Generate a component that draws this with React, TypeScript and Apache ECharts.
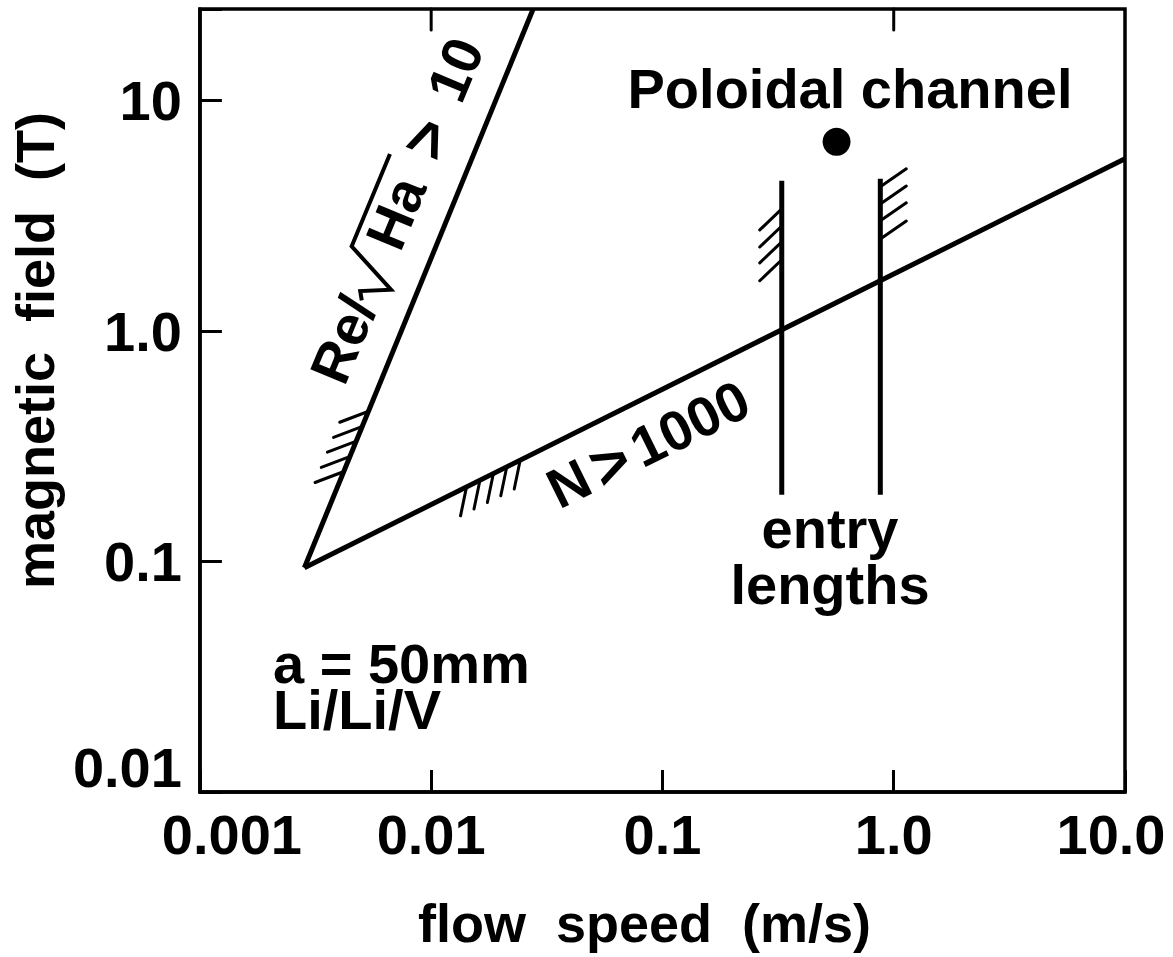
import React, { useEffect, useRef } from "react";
import * as echarts from "echarts";

const FONT = "'Liberation Sans', Arial, Helvetica, sans-serif";

// ---- axes ----
const xRange = [0.001, 10];
const yRange = [0.01, 25];
const xTickValues = [0.001, 0.01, 0.1, 1, 10];
const xTickLabels = ["0.001", "0.01", "0.1", "1.0", "10.0"];
const yTickValues = [0.01, 0.1, 1, 10];
const yTickLabels = ["0.01", "0.1", "1.0", "10"];
const topTickValues = [0.01, 1];
const xName = "flow  speed  (m/s)";
const yName = "magnetic  field  (T)";

// ---- boundary lines (flow speed m/s, field T) ----
const reLine = [[0.00283, 0.094], [0.0276, 25]];
const nLine = [[0.00283, 0.094], [10, 5.6]];
const entryLineA = [[0.328, 0.195], [0.328, 4.49]];
const entryLineB = [[0.875, 0.195], [0.875, 4.58]];
const poloidalPoint = [[0.566, 6.63]];

// ---- hatch anchors ----
const reHatch = [[0.0042, 0.246], [0.00447, 0.286], [0.00475, 0.333], [0.00505, 0.386], [0.00537, 0.449]];
const nHatch = [[0.01422, 0.211], [0.01626, 0.226], [0.01858, 0.241], [0.02123, 0.258], [0.02427, 0.276]];
const entryHatchA = [[0.328, 3.39], [0.328, 2.86], [0.328, 2.44], [0.328, 2.04]];
const entryHatchB = [[0.875, 4.23], [0.875, 3.56], [0.875, 3.01], [0.875, 2.51]];

const findIdx = (values: number[], v: number) => {
  const lv = Math.log10(v);
  for (let i = 0; i < values.length; i++) {
    if (Math.abs(Math.log10(values[i]) - lv) < 1e-6) return i;
  }
  return -1;
};

const baseText = { fontFamily: FONT, fontWeight: "bold" as const, fontSize: 56, color: "#000" };

const strokeSeries = (data: number[][], dx: number, dy: number, lw: number) => ({
  type: "custom",
  coordinateSystem: "cartesian2d",
  data,
  silent: true,
  clip: false,
  renderItem: (_p: any, api: any) => {
    const p = api.coord([api.value(0), api.value(1)]);
    return {
      type: "line",
      shape: { x1: p[0], y1: p[1], x2: p[0] + dx, y2: p[1] + dy },
      style: { stroke: "#000", lineWidth: lw, lineCap: "round" },
    };
  },
});

const lineSeries = (data: number[][]) => ({
  type: "line",
  data,
  symbol: "none",
  silent: true,
  lineStyle: { color: "#000", width: 5 },
});

const txt = (text: string, x: number, y: number, align = "center", size = 56, lineHeight?: number) => ({
  type: "text",
  x,
  y,
  style: {
    text,
    font: `bold ${size}px ${FONT}`,
    fill: "#000",
    textAlign: align,
    textVerticalAlign: "middle",
    ...(lineHeight ? { lineHeight } : {}),
  },
});

export default function App() {
  const ref = useRef<HTMLDivElement>(null);
  useEffect(() => {
    if (!ref.current) return;
    const chart = echarts.init(ref.current, null, { renderer: "svg" });
    chart.setOption({
      animation: false,
      backgroundColor: "#fff",
      grid: {
        left: 196,
        right: 48,
        top: 9,
        bottom: 165,
        show: true,
        borderColor: "#000",
        borderWidth: 3.5,
      },
      xAxis: {
        type: "log",
        logBase: 10,
        min: xRange[0],
        max: xRange[1],
        name: xName,
        nameLocation: "middle",
        nameGap: 104,
        nameTextStyle: { ...baseText, fontSize: 54, padding: [0, 36, 0, 0] },
        axisLine: { show: true, lineStyle: { color: "#000", width: 3.5 } },
        axisTick: { show: true, inside: true, length: 22, lineStyle: { color: "#000", width: 3 } },
        minorTick: { show: false },
        splitLine: { show: false },
        axisLabel: {
          margin: 14,
          showMinLabel: true,
          showMaxLabel: true,
          formatter: (v: number) => {
            const i = findIdx(xTickValues, v);
            if (i < 0) return "";
            const key = i === 0 ? "first" : i === xTickValues.length - 1 ? "last" : "mid";
            return `{${key}|${xTickLabels[i]}}`;
          },
          rich: {
            first: { ...baseText, padding: [0, 0, 0, 64] },
            last: { ...baseText, padding: [0, 28, 0, 0] },
            mid: { ...baseText },
          },
        },
      },
      yAxis: {
        type: "log",
        logBase: 10,
        min: yRange[0],
        max: yRange[1],
        name: yName,
        nameLocation: "middle",
        nameGap: 126,
        nameTextStyle: { ...baseText, fontSize: 54, padding: [0, 0, 0, 100] },
        axisLine: { show: true, lineStyle: { color: "#000", width: 3.5 } },
        axisTick: { show: true, inside: true, length: 22, lineStyle: { color: "#000", width: 3 } },
        minorTick: { show: false },
        splitLine: { show: false },
        axisLabel: {
          margin: 18,
          showMinLabel: true,
          formatter: (v: number) => {
            const i = findIdx(yTickValues, v);
            if (i < 0) return "";
            const key = i === 0 ? "low" : "n";
            return `{${key}|${yTickLabels[i]}}`;
          },
          rich: {
            low: { ...baseText, padding: [0, 0, 50, 0] },
            n: { ...baseText },
          },
        },
      },
      series: [
        lineSeries(reLine),
        lineSeries(nLine),
        lineSeries(entryLineA),
        lineSeries(entryLineB),
        {
          type: "scatter",
          data: poloidalPoint,
          symbol: "circle",
          symbolSize: 28,
          silent: true,
          itemStyle: { color: "#000", opacity: 1 },
        },
        strokeSeries(reHatch, -29, 11, 3),
        strokeSeries(nHatch, -6, 29, 3),
        strokeSeries(entryHatchA, -22, 21, 3),
        strokeSeries(entryHatchB, 26, -18, 3),
        strokeSeries(topTickValues.map((v) => [v, yRange[1]]), 0, 21, 3),
      ],
      graphic: [
        {
          type: "group",
          x: 347,
          y: 383,
          rotation: 1.178,
          children: [
            txt("Re/", -5, -20, "left"),
            {
              type: "polyline",
              shape: { points: [[82, -18], [90, -23], [103, 5], [128, -48], [228, -48]] },
              style: { stroke: "#000", lineWidth: 4, fill: null },
            },
            txt("Ha", 140, -20, "left"),
            txt(">", 238, -20, "left", 64),
            txt("10", 300, -20, "left"),
          ],
        },
        {
          type: "group",
          x: 650,
          y: 443,
          rotation: 0.459,
          children: [
            txt("N", -111, 0, "left"),
            txt(">", -63, 0, "left", 64),
            txt("1000", -18, 0, "left"),
          ],
        },
        txt("Poloidal channel", 850, 88),
        txt("entry\nlengths", 830, 556, "center", 56, 56),
        txt("a = 50mm\nLi/Li/V", 273, 686, "left", 56, 46),
      ],
    });
    return () => chart.dispose();
  }, []);
  return (
    <div
      ref={ref}
      style={{ position: "absolute", left: 0, top: 0, width: 1173, height: 957, background: "#fff" }}
    />
  );
}
